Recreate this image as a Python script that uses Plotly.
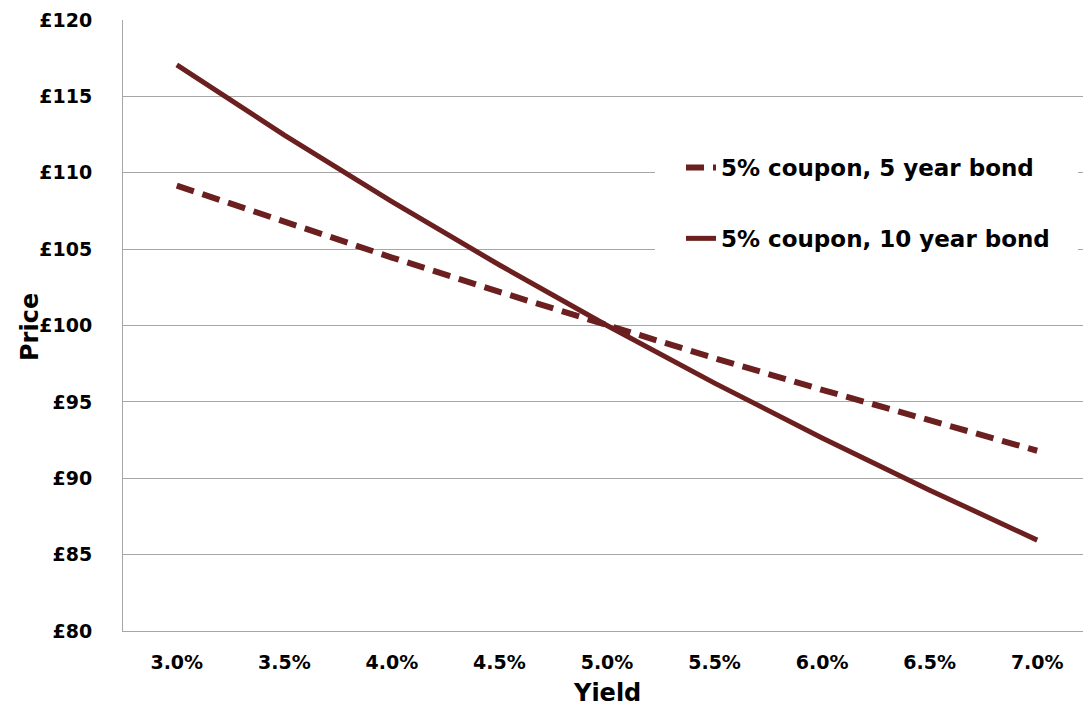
import plotly.graph_objects as go

yields = ["3.0%", "3.5%", "4.0%", "4.5%", "5.0%", "5.5%", "6.0%", "6.5%", "7.0%"]
price_5yr = [109.16, 106.77, 104.45, 102.20, 100.0, 97.86, 95.79, 93.77, 91.80]
price_10yr = [117.06, 112.47, 108.11, 103.96, 100.0, 96.23, 92.64, 89.22, 85.95]
y_ticks = [80, 85, 90, 95, 100, 105, 110, 115, 120]
y_tick_labels = ["£" + str(v) for v in y_ticks]

COLOR = "#6B1F1F"
FONT = "DejaVu Sans"
GRID = "#A6A6A6"

# page has an 8px body margin; compensate
W, H = 1083, 702
L, T, B, R = 115, 12, 79, 0
PW, PH = W - L - R, H - T - B


def px_x(page_x):
    return (page_x - 8 - L) / PW


def px_y(page_y):
    return 1 - (page_y - 8 - T) / PH


fig = go.Figure()
fig.add_trace(go.Scatter(x=yields, y=price_5yr, mode="lines", name="5% coupon, 5 year bond",
                         line=dict(color=COLOR, width=6, dash="18px,9px"), legendgroup="a"))
fig.add_trace(go.Scatter(x=yields, y=price_10yr, mode="lines", name="5% coupon, 10 year bond",
                         line=dict(color=COLOR, width=5), legendgroup="b"))

fig.add_shape(type="rect", xref="paper", yref="paper", layer="above",
              x0=px_x(655), x1=px_x(1078), y0=px_y(268), y1=px_y(135),
              fillcolor="white", line=dict(width=0))

fig.update_layout(
    width=W, height=H,
    margin=dict(l=L, r=R, t=T, b=B),
    paper_bgcolor="white", plot_bgcolor="white",
    font=dict(family=FONT, size=19, color="black", weight="bold"),
    showlegend=True,
    legend=dict(x=px_x(681), y=px_y(146), xanchor="left", yanchor="top",
                bgcolor="white", traceorder="grouped", tracegroupgap=38,
                font=dict(family=FONT, size=23, color="black", weight="bold"),
                itemwidth=30),
    xaxis=dict(type="category", range=[-0.5, 8.5], showgrid=False, showline=True,
               linecolor=GRID, linewidth=1, ticks="", ticklabelstandoff=14,
               tickfont=dict(family=FONT, size=19, weight="bold")),
    yaxis=dict(range=[80, 120], tickvals=y_ticks, ticktext=y_tick_labels,
               showgrid=True, gridcolor=GRID, gridwidth=1, zeroline=False,
               showline=True, linecolor=GRID, linewidth=1, ticks="",
               ticklabelstandoff=26,
               tickfont=dict(family=FONT, size=19, weight="bold")),
)
fig.add_annotation(text="Price", x=px_x(30), y=px_y(327), xref="paper", yref="paper",
                   xanchor="center", yanchor="middle", showarrow=False, textangle=-90,
                   font=dict(family=FONT, size=24, weight="bold"))
fig.add_annotation(text="Yield", x=0.5, y=px_y(693), xref="paper", yref="paper",
                   xanchor="center", yanchor="middle", showarrow=False,
                   font=dict(family=FONT, size=24, weight="bold"))

fig.write_html("out.html")
